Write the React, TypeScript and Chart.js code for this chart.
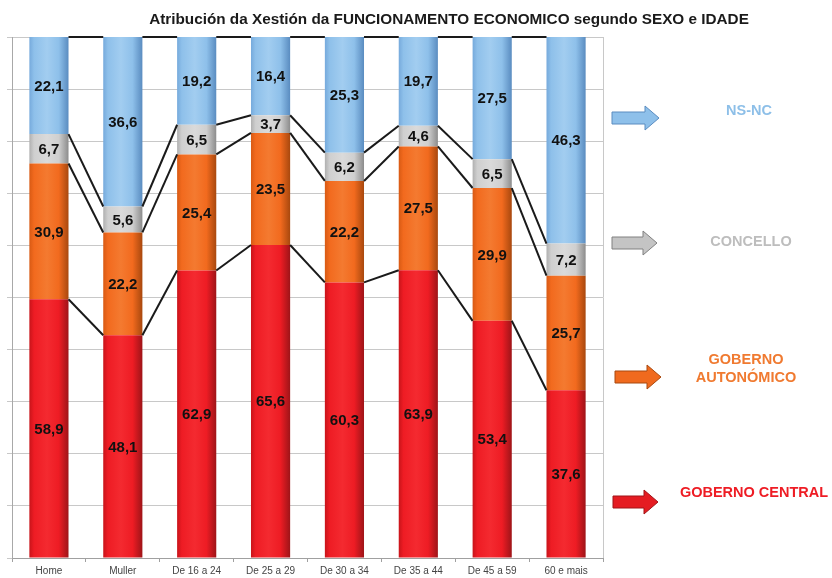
import React, { useEffect, useRef } from "react";
import { Chart, registerables } from "chart.js";

Chart.register(...registerables);

const categories = ["Home", "Muller", "De 16 a 24", "De 25 a 29", "De 30 a 34", "De 35 a 44", "De 45 a 59", "60 e mais"];
const gobernoCentral = [58.9, 48.1, 62.9, 65.6, 60.3, 63.9, 53.4, 37.6];
const gobernoAutonomico = [30.9, 22.2, 25.4, 23.5, 22.2, 27.5, 29.9, 25.7];
const concello = [6.7, 5.6, 6.5, 3.7, 6.2, 4.6, 6.5, 7.2];
const nsnc = [22.1, 36.6, 19.2, 16.4, 25.3, 19.7, 27.5, 46.3];
const seriesNames = ["GOBERNO CENTRAL", "GOBERNO AUTONÓMICO", "CONCELLO", "NS-NC"];
const titleText = "Atribución da Xestión da FUNCIONAMENTO ECONOMICO segundo SEXO e IDADE";

const rawSeries = [gobernoCentral, gobernoAutonomico, concello, nsnc];
const totals = categories.map((_, i) => rawSeries.reduce((s, arr) => s + arr[i], 0));
const pctSeries = rawSeries.map((arr) => arr.map((v, i) => (v / totals[i]) * 100));

const palettes = [
  { edge: "#c8141a", base: "#ee1c24", light: "#f42a30", dark: "#9e1418" },
  { edge: "#d85a14", base: "#f26a1e", light: "#f47a30", dark: "#a8480e" },
  { edge: "#b0b0b0", base: "#cfcfcf", light: "#dadada", dark: "#8c8c8c" },
  { edge: "#76aadc", base: "#8ec0ea", light: "#a2cdf0", dark: "#5a8cc0" },
];
const legendColors = ["#ee1c24", "#f07a30", "#bdbdbd", "#8dbfe8"];
const arrowFill = ["#e51c22", "#f06a1e", "#c4c4c4", "#8ec0ea"];
const arrowStroke = ["#a01418", "#a8480e", "#808080", "#5a8cc0"];

const FONT = "'Liberation Sans', Arial, sans-serif";
const BAR_PCT = 0.53;

function fmt(v: number) {
  return v.toFixed(1).replace(".", ",");
}

const overlayPlugin = {
  id: "overlay",
  afterDatasetsDraw(chart: any) {
    const ctx = chart.ctx as CanvasRenderingContext2D;
    const area = chart.chartArea;
    ctx.save();
    // right border
    ctx.strokeStyle = "#c8c8c8";
    ctx.lineWidth = 1;
    ctx.beginPath();
    ctx.moveTo(Math.round(area.right) + 0.5, area.top);
    ctx.lineTo(Math.round(area.right) + 0.5, area.bottom);
    ctx.stroke();

    // series lines
    ctx.strokeStyle = "#1a1a1a";
    ctx.lineWidth = 2;
    for (let d = 0; d < rawSeries.length; d++) {
      const meta = chart.getDatasetMeta(d);
      for (let i = 0; i < categories.length - 1; i++) {
        const a = meta.data[i] as any;
        const b = meta.data[i + 1] as any;
        ctx.beginPath();
        ctx.moveTo(a.x + a.width / 2, a.y);
        ctx.lineTo(b.x - b.width / 2, b.y);
        ctx.stroke();
      }
    }

    // value labels
    ctx.fillStyle = "#111";
    ctx.font = `bold 15px ${FONT}`;
    ctx.textAlign = "center";
    ctx.textBaseline = "middle";
    for (let d = 0; d < rawSeries.length; d++) {
      const meta = chart.getDatasetMeta(d);
      meta.data.forEach((el: any, i: number) => {
        ctx.fillText(fmt(rawSeries[d][i]), el.x, (el.y + el.base) / 2 + 1);
      });
    }

    // title
    ctx.fillStyle = "#1a1a1a";
    ctx.font = `bold 15.3px ${FONT}`;
    ctx.fillText(titleText, 449, 20);

    // legend arrows and labels
    const legend = [
      { s: 3, ay: 118, x0: 612, x1: 659, lines: ["NS-NC"], ty: [111], tx: 749 },
      { s: 2, ay: 243, x0: 612, x1: 657, lines: ["CONCELLO"], ty: [242], tx: 751 },
      { s: 1, ay: 377, x0: 615, x1: 661, lines: ["GOBERNO", "AUTONÓMICO"], ty: [360, 378], tx: 746 },
      { s: 0, ay: 502, x0: 613, x1: 658, lines: ["GOBERNO CENTRAL"], ty: [493], tx: 754 },
    ];
    legend.forEach((l) => {
      const xh = l.x1 - 14;
      ctx.beginPath();
      ctx.moveTo(l.x0, l.ay - 6);
      ctx.lineTo(xh, l.ay - 6);
      ctx.lineTo(xh, l.ay - 12);
      ctx.lineTo(l.x1, l.ay);
      ctx.lineTo(xh, l.ay + 12);
      ctx.lineTo(xh, l.ay + 6);
      ctx.lineTo(l.x0, l.ay + 6);
      ctx.closePath();
      ctx.fillStyle = arrowFill[l.s];
      ctx.fill();
      ctx.strokeStyle = arrowStroke[l.s];
      ctx.lineWidth = 1;
      ctx.stroke();
      ctx.fillStyle = legendColors[l.s];
      ctx.font = `bold 14.5px ${FONT}`;
      l.lines.forEach((t, k) => ctx.fillText(t, l.tx, l.ty[k]));
    });
    ctx.restore();
  },
};

function makeBg(d: number) {
  const p = palettes[d];
  return (c: any) => {
    const chart = c.chart;
    const xs = chart.scales?.x;
    const area = chart.chartArea;
    if (!xs || !area || c.type !== "data") return p.base;
    const cx = xs.getPixelForValue(c.dataIndex);
    const w = ((area.right - area.left) / categories.length) * BAR_PCT;
    const g = chart.ctx.createLinearGradient(cx - w / 2, 0, cx + w / 2, 0);
    g.addColorStop(0, p.edge);
    g.addColorStop(0.12, p.base);
    g.addColorStop(0.45, p.light);
    g.addColorStop(0.75, p.base);
    g.addColorStop(1, p.dark);
    return g;
  };
}

export default function App() {
  const ref = useRef<HTMLCanvasElement | null>(null);
  useEffect(() => {
    document.body.style.margin = "0";
    if (!ref.current) return;
    const chart = new Chart(ref.current, {
      type: "bar",
      data: {
        labels: categories,
        datasets: pctSeries.map((data, d) => ({
          label: seriesNames[d],
          data,
          backgroundColor: makeBg(d),
          borderWidth: 0,
          categoryPercentage: 1,
          barPercentage: BAR_PCT,
        })),
      },
      options: {
        animation: false,
        responsive: false,
        layout: { padding: { left: 7, right: 229, top: 37, bottom: 0 } },
        plugins: { legend: { display: false }, title: { display: false }, tooltip: { enabled: false } },
        scales: {
          x: {
            stacked: true,
            grid: { drawOnChartArea: false, tickLength: 4, color: "#a0a0a0", offset: true },
            border: { color: "#a0a0a0" },
            ticks: { color: "#444", font: { size: 10, family: FONT }, padding: 3, maxRotation: 0, autoSkip: false },
            afterFit: (s: any) => {
              s.height = 20;
            },
          },
          y: {
            stacked: true,
            min: 0,
            max: 100,
            grid: { color: "#c8c8c8", tickLength: 5 },
            border: { color: "#a8a8a8" },
            ticks: { display: false, stepSize: 10 },
            afterFit: (s: any) => {
              s.width = 5;
            },
          },
        },
      },
      plugins: [overlayPlugin],
    });
    return () => chart.destroy();
  }, []);
  return (
    <div style={{ width: 832, height: 578 }}>
      <canvas ref={ref} width={832} height={578} style={{ display: "block" }} />
    </div>
  );
}
